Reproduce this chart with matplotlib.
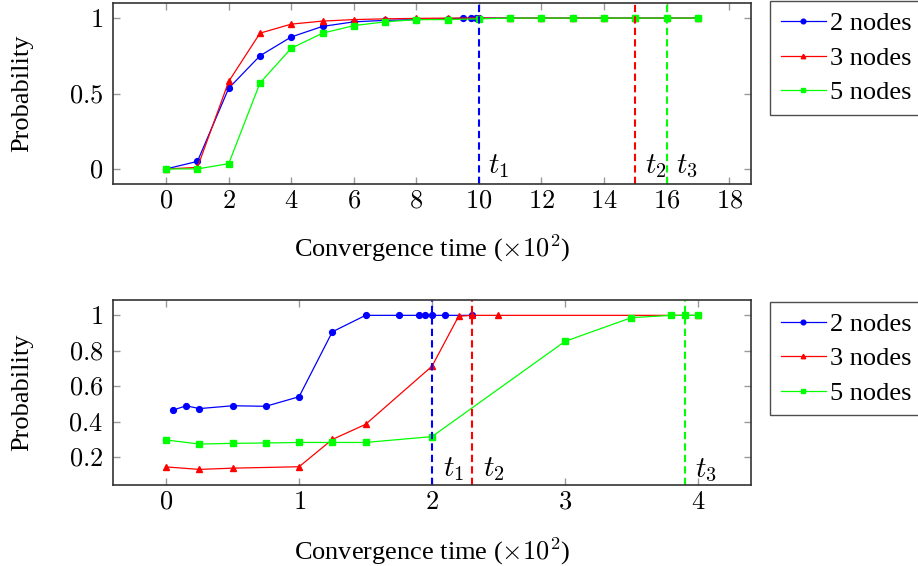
import matplotlib
matplotlib.use("Agg")
import matplotlib.pyplot as plt
from matplotlib.ticker import FuncFormatter

plt.rcParams['font.family'] = ['Liberation Serif', 'DejaVu Serif']
plt.rcParams['mathtext.fontset'] = 'cm'

# top panel data
x_top_2 = [0, 1, 2, 3, 4, 5, 6, 7, 8, 9, 9.5, 9.75, 9.9, 10, 11, 12, 13, 14, 15, 16, 17]
y_top_2 = [0, 0.05, 0.535, 0.75, 0.875, 0.945, 0.975, 0.985, 0.99, 0.995, 1, 1, 1, 1, 1, 1, 1, 1, 1, 1, 1]
x_top_3 = [0, 1, 2, 3, 4, 5, 6, 7, 8, 9, 10, 11, 12, 13, 14, 15, 16, 17]
y_top_3 = [0, 0.01, 0.58, 0.9, 0.96, 0.98, 0.99, 0.995, 0.998, 1, 1, 1, 1, 1, 1, 1, 1, 1]
x_top_5 = [0, 1, 2, 3, 4, 5, 6, 7, 8, 9, 10, 11, 12, 13, 14, 15, 16, 17]
y_top_5 = [0, 0, 0.035, 0.57, 0.8, 0.9, 0.95, 0.975, 0.99, 0.99, 0.995, 1, 1, 1, 1, 1, 1, 1]
t_top = [10, 15, 16]

# bottom panel data
x_bot_2 = [0.05, 0.15, 0.25, 0.5, 0.75, 1.0, 1.25, 1.5, 1.75, 1.9, 1.95, 2.0, 2.1, 2.3]
y_bot_2 = [0.465, 0.49, 0.474, 0.49, 0.487, 0.541, 0.907, 1.0, 1.0, 1.0, 1.0, 1.0, 1.0, 1.0]
x_bot_3 = [0, 0.25, 0.5, 1.0, 1.25, 1.5, 2.0, 2.2, 2.3, 2.5, 4.0]
y_bot_3 = [0.145, 0.131, 0.138, 0.146, 0.30, 0.385, 0.713, 0.995, 1.0, 1.0, 1.0]
x_bot_5 = [0, 0.25, 0.5, 0.75, 1.0, 1.25, 1.5, 2.0, 3.0, 3.5, 3.8, 3.9, 4.0]
y_bot_5 = [0.297, 0.274, 0.278, 0.28, 0.283, 0.283, 0.283, 0.316, 0.853, 0.987, 1.0, 1.0, 1.0]
t_bot = [2.0, 2.3, 3.9]

labels = ['2 nodes', '3 nodes', '5 nodes']
colors = ['#0000ff', '#ff0000', '#00ff00']
markers = ['o', '^', 's']
msizes = [4.2, 4.0, 4.2]

fig = plt.figure(figsize=(9.18, 5.66), dpi=100)
ax1 = fig.add_axes([0.1231, 0.6749, 0.695, 0.3198])
ax2 = fig.add_axes([0.1231, 0.1431, 0.695, 0.327])

mfmt = FuncFormatter(lambda v, p: '$%g$' % v)


def style(ax):
    for s in ax.spines.values():
        s.set_color('#333333')
        s.set_linewidth(1.2)
    ax.tick_params(direction='in', top=True, right=True, length=5, width=1.0,
                   color='#999999', labelsize=19)
    ax.tick_params(axis='y', pad=7)
    ax.tick_params(axis='x', pad=5)
    ax.xaxis.set_major_formatter(mfmt)
    ax.yaxis.set_major_formatter(mfmt)
    ax.set_xlabel('Convergence time ($\\times10^2$)', fontsize=19)
    ax.set_ylabel('Probability', fontsize=19)
    ax.yaxis.set_label_coords(-0.125, 0.5)


series_top = [(x_top_2, y_top_2), (x_top_3, y_top_3), (x_top_5, y_top_5)]
for (xs, ys), c, m, ms, lab in zip(series_top, colors, markers, msizes, labels):
    ax1.plot(xs, ys, color=c, marker=m, markersize=ms, linewidth=0.9, label=lab)
for t, c in zip(t_top, colors):
    ax1.axvline(t, color=c, linestyle=(0, (3.5, 2)), linewidth=1.5)
ax1.set_xlim(-1.7, 18.7)
ax1.set_ylim(-0.1, 1.1)
ax1.set_xticks(range(0, 19, 2))
ax1.set_yticks([0, 0.5, 1])
style(ax1)
ax1.xaxis.set_label_coords(0.5, -0.27)
ax1.text(10.3, -0.026, '$t_1$', fontsize=21, va='baseline')
ax1.text(15.3, -0.026, '$t_2$', fontsize=21, va='baseline')
ax1.text(16.3, -0.026, '$t_3$', fontsize=21, va='baseline')

series_bot = [(x_bot_2, y_bot_2), (x_bot_3, y_bot_3), (x_bot_5, y_bot_5)]
for (xs, ys), c, m, ms, lab in zip(series_bot, colors, markers, msizes, labels):
    ax2.plot(xs, ys, color=c, marker=m, markersize=ms, linewidth=0.9, label=lab)
for t, c in zip(t_bot, colors):
    ax2.axvline(t, color=c, linestyle=(0, (3.5, 2)), linewidth=1.5)
ax2.set_xlim(-0.4, 4.4)
ax2.set_ylim(0.043, 1.087)
ax2.set_xticks([0, 1, 2, 3, 4])
ax2.set_yticks([0.2, 0.4, 0.6, 0.8, 1])
style(ax2)
ax2.xaxis.set_label_coords(0.5, -0.27)
ax2.text(2.08, 0.095, '$t_1$', fontsize=21, va='baseline')
ax2.text(2.38, 0.095, '$t_2$', fontsize=21, va='baseline')
ax2.text(3.98, 0.088, '$t_3$', fontsize=21, va='baseline')

for ax, top in ((ax1, 1.01), (ax2, 0.99)):
    leg = ax.legend(loc='upper left', bbox_to_anchor=(1.03, top), fontsize=19,
                    frameon=True, fancybox=False, edgecolor='#222222',
                    handlelength=1.7, handletextpad=0.15, borderpad=0.4,
                    labelspacing=0.42, borderaxespad=0, markerscale=0.8)
    leg.get_frame().set_linewidth(1.0)

fig.savefig('out.png', dpi=100)
